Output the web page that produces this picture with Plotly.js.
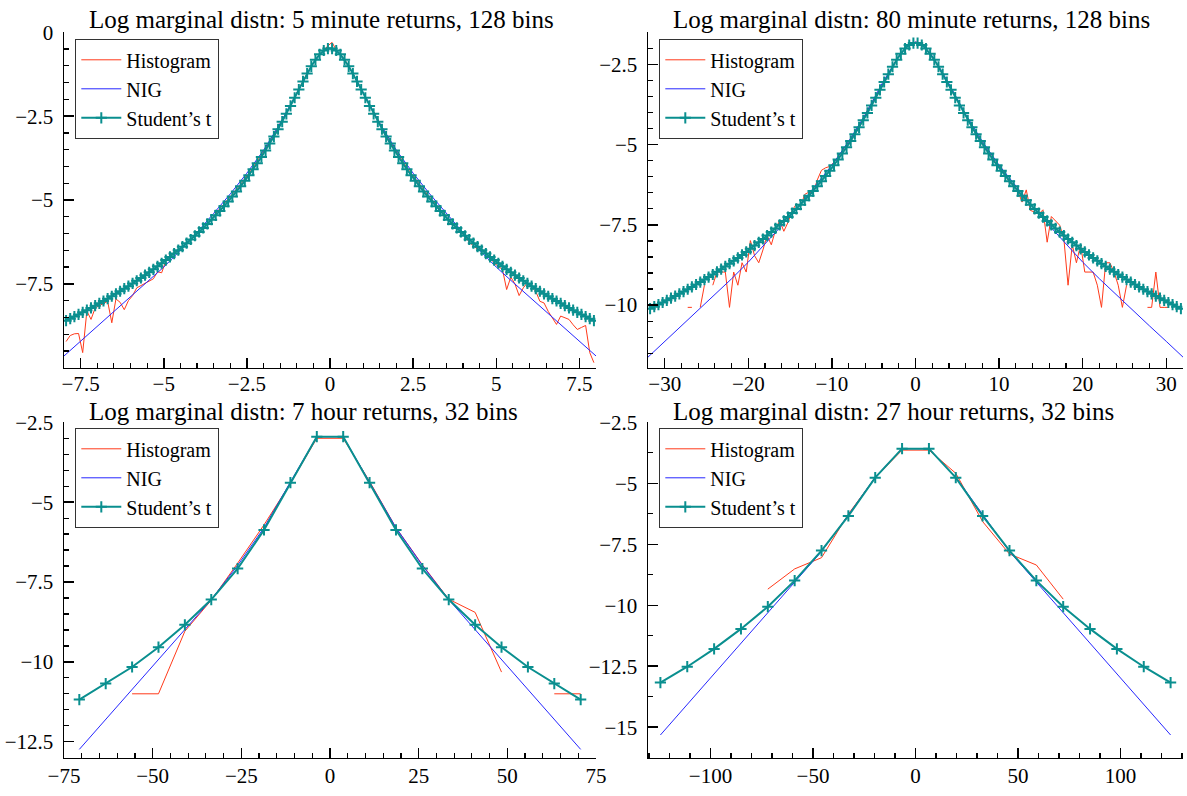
<!DOCTYPE html>
<html>
<head>
<meta charset="utf-8">
<script src="https://cdn.plot.ly/plotly-3.0.1.min.js"></script>
<style>html,body{margin:0;padding:0;background:#fff;}#chart{width:1187px;height:796px;}</style>
</head>
<body>
<div id="chart"></div>
<script>
// ---------- Panel titles ----------
const titles = [
  "Log marginal distn: 5 minute returns, 128 bins",
  "Log marginal distn: 80 minute returns, 128 bins",
  "Log marginal distn: 7 hour returns, 32 bins",
  "Log marginal distn: 27 hour returns, 32 bins"
];
const seriesNames = ["Histogram", "NIG", "Student\u2019s t"];

// ---------- Panel 1: 5 minute returns ----------
const p1_x = [-7.9375,-7.8125,-7.6875,-7.5625,-7.4375,-7.3125,-7.1875,-7.0625,-6.9375,-6.8125,-6.6875,-6.5625,-6.4375,-6.3125,-6.1875,-6.0625,
-5.9375,-5.8125,-5.6875,-5.5625,-5.4375,-5.3125,-5.1875,-5.0625,-4.9375,-4.8125,-4.6875,-4.5625,-4.4375,-4.3125,-4.1875,-4.0625,
-3.9375,-3.8125,-3.6875,-3.5625,-3.4375,-3.3125,-3.1875,-3.0625,-2.9375,-2.8125,-2.6875,-2.5625,-2.4375,-2.3125,-2.1875,-2.0625,
-1.9375,-1.8125,-1.6875,-1.5625,-1.4375,-1.3125,-1.1875,-1.0625,-0.9375,-0.8125,-0.6875,-0.5625,-0.4375,-0.3125,-0.1875,-0.0625,
0.0625,0.1875,0.3125,0.4375,0.5625,0.6875,0.8125,0.9375,1.0625,1.1875,1.3125,1.4375,1.5625,1.6875,1.8125,1.9375,
2.0625,2.1875,2.3125,2.4375,2.5625,2.6875,2.8125,2.9375,3.0625,3.1875,3.3125,3.4375,3.5625,3.6875,3.8125,3.9375,
4.0625,4.1875,4.3125,4.4375,4.5625,4.6875,4.8125,4.9375,5.0625,5.1875,5.3125,5.4375,5.5625,5.6875,5.8125,5.9375,
6.0625,6.1875,6.3125,6.4375,6.5625,6.6875,6.8125,6.9375,7.0625,7.1875,7.3125,7.4375,7.5625,7.6875,7.8125,7.9375];
const p1_hist = [-9.22,-9.04,-8.99,-8.98,-9.55,-8.31,-8.56,-8.22,-8.15,-8.09,-8.02,-8.66,-7.95,-8.05,-8.27,-8.00,
-7.85,-7.62,-7.55,-7.50,-7.42,-7.35,-7.14,-7.17,-6.82,-6.66,-6.57,-6.48,-6.41,-6.30,-6.19,-6.07,
-5.96,-5.84,-5.72,-5.59,-5.40,-5.26,-5.14,-4.98,-4.83,-4.68,-4.54,-4.36,-4.21,-4.02,-3.84,-3.66,
-3.46,-3.28,-3.05,-2.84,-2.63,-2.39,-2.17,-1.93,-1.69,-1.47,-1.22,-1.02,-0.83,-0.65,-0.55,-0.40,
-0.30,-0.53,-0.66,-0.81,-1.00,-1.23,-1.45,-1.70,-1.92,-2.16,-2.40,-2.62,-2.85,-3.07,-3.27,-3.47,
-3.66,-3.85,-4.03,-4.20,-4.37,-4.53,-4.69,-4.85,-4.99,-5.13,-5.27,-5.41,-5.62,-5.74,-5.86,-5.98,
-6.08,-6.26,-6.38,-6.47,-6.50,-6.56,-6.72,-6.88,-6.98,-7.07,-7.67,-7.30,-7.50,-7.85,-7.62,-7.47,
-7.60,-7.72,-8.02,-8.07,-8.32,-8.50,-8.71,-8.46,-8.52,-8.56,-8.72,-8.86,-8.80,-8.74,-9.55,-9.85];
const p1_t = [-8.598,-8.537,-8.475,-8.412,-8.349,-8.284,-8.217,-8.150,-8.082,-8.012,-7.942,-7.869,-7.796,-7.721,-7.645,-7.568,
-7.488,-7.408,-7.325,-7.241,-7.155,-7.067,-6.978,-6.886,-6.792,-6.696,-6.597,-6.496,-6.393,-6.287,-6.178,-6.066,
-5.951,-5.833,-5.712,-5.587,-5.458,-5.325,-5.187,-5.046,-4.899,-4.748,-4.591,-4.428,-4.260,-4.085,-3.904,-3.716,
-3.521,-3.318,-3.108,-2.890,-2.664,-2.432,-2.194,-1.952,-1.708,-1.466,-1.232,-1.013,-0.818,-0.658,-0.543,-0.484,
-0.484,-0.543,-0.658,-0.818,-1.013,-1.232,-1.466,-1.708,-1.952,-2.194,-2.432,-2.664,-2.890,-3.108,-3.318,-3.521,
-3.716,-3.904,-4.085,-4.260,-4.428,-4.591,-4.748,-4.899,-5.046,-5.187,-5.325,-5.458,-5.587,-5.712,-5.833,-5.951,
-6.066,-6.178,-6.287,-6.393,-6.496,-6.597,-6.696,-6.792,-6.886,-6.978,-7.067,-7.155,-7.241,-7.325,-7.408,-7.488,
-7.568,-7.645,-7.721,-7.796,-7.869,-7.942,-8.012,-8.082,-8.150,-8.217,-8.284,-8.349,-8.412,-8.475,-8.537,-8.598];
const p1_nig_x = [-8,-7.5,-7,-6.5,-6,-5.5,-5,-4.5,-4,-3.5,-3,-2.5,-2,-1.5,-1,-0.75,-0.5,-0.25,0,0.25,0.5,0.75,1,1.5,2,2.5,3,3.5,4,4.5,5,5.5,6,6.5,7,7.5,8];
const p1_nig = [-9.65,-9.21,-8.77,-8.33,-7.89,-7.45,-7.00,-6.50,-5.97,-5.40,-4.82,-4.20,-3.52,-2.72,-1.80,-1.34,-0.92,-0.60,-0.47,-0.60,-0.92,-1.34,-1.80,-2.72,-3.52,-4.20,-4.82,-5.40,-5.97,-6.50,-7.00,-7.45,-7.89,-8.33,-8.77,-9.21,-9.65];

// ---------- Panel 2: 80 minute returns ----------
const p2_x = [-31.75,-31.25,-30.75,-30.25,-29.75,-29.25,-28.75,-28.25,-27.75,-27.25,-26.75,-26.25,-25.75,-25.25,-24.75,-24.25,
-23.75,-23.25,-22.75,-22.25,-21.75,-21.25,-20.75,-20.25,-19.75,-19.25,-18.75,-18.25,-17.75,-17.25,-16.75,-16.25,
-15.75,-15.25,-14.75,-14.25,-13.75,-13.25,-12.75,-12.25,-11.75,-11.25,-10.75,-10.25,-9.75,-9.25,-8.75,-8.25,
-7.75,-7.25,-6.75,-6.25,-5.75,-5.25,-4.75,-4.25,-3.75,-3.25,-2.75,-2.25,-1.75,-1.25,-0.75,-0.25,
0.25,0.75,1.25,1.75,2.25,2.75,3.25,3.75,4.25,4.75,5.25,5.75,6.25,6.75,7.25,7.75,
8.25,8.75,9.25,9.75,10.25,10.75,11.25,11.75,12.25,12.75,13.25,13.75,14.25,14.75,15.25,15.75,
16.25,16.75,17.25,17.75,18.25,18.75,19.25,19.75,20.25,20.75,21.25,21.75,22.25,22.75,23.25,23.75,
24.25,24.75,25.25,25.75,26.25,26.75,27.25,27.75,28.25,28.75,29.25,29.75,30.25,30.75,31.25,31.75];
const p2_hist = [null,null,null,null,null,null,null,null,null,-10.07,-10.07,null,-10.07,-9.38,null,-9.38,
-8.97,-8.97,-8.97,-10.07,-8.97,-9.38,-8.68,-8.97,-7.99,-8.46,-8.68,-8.28,-7.83,-8.12,-7.67,-7.36,
-7.70,-7.42,-7.05,-6.85,-6.92,-6.55,-6.48,-6.52,-6.10,-5.80,-5.72,-5.68,-5.55,-5.38,-5.20,-5.02,
-4.82,-4.63,-4.40,-4.20,-3.93,-3.73,-3.50,-3.26,-3.02,-2.78,-2.55,-2.34,-2.15,-2.00,-1.88,-1.82,
-1.80,-1.89,-2.01,-2.16,-2.35,-2.56,-2.79,-3.03,-3.27,-3.51,-3.74,-3.98,-4.20,-4.43,-4.65,-4.85,
-5.06,-5.25,-5.44,-5.62,-5.72,-5.92,-6.20,-6.22,-6.45,-6.79,-6.41,-7.05,-7.10,-7.16,-7.03,-8.04,
-7.24,-7.37,-7.51,-7.94,-9.38,-8.12,-8.68,-8.12,-8.97,-8.97,-8.97,-9.38,-10.07,-8.68,-8.68,-8.97,
-9.38,-10.07,-9.38,null,null,null,null,-10.07,-10.07,-8.97,-10.07,-10.07,-10.07,null,null,null];
const p2_t = [-10.111,-10.048,-9.984,-9.918,-9.852,-9.785,-9.717,-9.648,-9.577,-9.505,-9.432,-9.358,-9.282,-9.205,-9.126,-9.046,
-8.964,-8.881,-8.796,-8.709,-8.620,-8.529,-8.437,-8.342,-8.245,-8.146,-8.044,-7.940,-7.834,-7.724,-7.612,-7.497,
-7.378,-7.257,-7.132,-7.003,-6.870,-6.733,-6.592,-6.446,-6.295,-6.140,-5.979,-5.812,-5.639,-5.460,-5.275,-5.083,
-4.883,-4.676,-4.462,-4.240,-4.012,-3.777,-3.536,-3.292,-3.048,-2.806,-2.573,-2.357,-2.165,-2.008,-1.896,-1.837,
-1.837,-1.896,-2.008,-2.165,-2.357,-2.573,-2.806,-3.048,-3.292,-3.536,-3.777,-4.012,-4.240,-4.462,-4.676,-4.883,
-5.083,-5.275,-5.460,-5.639,-5.812,-5.979,-6.140,-6.295,-6.446,-6.592,-6.733,-6.870,-7.003,-7.132,-7.257,-7.378,
-7.497,-7.612,-7.724,-7.834,-7.940,-8.044,-8.146,-8.245,-8.342,-8.437,-8.529,-8.620,-8.709,-8.796,-8.881,-8.964,
-9.046,-9.126,-9.205,-9.282,-9.358,-9.432,-9.505,-9.577,-9.648,-9.717,-9.785,-9.852,-9.918,-9.984,-10.048,-10.111];
const p2_nig_x = [-32,-30,-28,-26,-24,-22,-20,-18,-16,-14,-12,-10,-8,-6,-4,-3,-2,-1,0,1,2,3,4,6,8,10,12,14,16,18,20,22,24,26,28,30,32];
const p2_nig = [-11.62,-11.13,-10.65,-10.17,-9.68,-9.18,-8.66,-8.10,-7.52,-6.93,-6.30,-5.64,-4.90,-4.06,-3.10,-2.66,-2.24,-1.93,-1.80,-1.93,-2.24,-2.66,-3.10,-4.06,-4.90,-5.64,-6.30,-6.93,-7.52,-8.10,-8.66,-9.18,-9.68,-10.17,-10.65,-11.13,-11.62];

// ---------- Panel 3: 7 hour returns ----------
const p3_x = [-70.68,-63.24,-55.8,-48.36,-40.92,-33.48,-26.04,-18.6,-11.16,-3.72,3.72,11.16,18.6,26.04,33.48,40.92,48.36,55.8,63.24,70.68];
const p3_hist = [null,null,-11.0,-11.0,-9.04,-8.07,-6.91,-5.71,-4.41,-3.0,-3.0,-4.35,-5.8,-6.96,-8.04,-8.45,-10.32,null,-11.0,-11.0];
const p3_nig = [-12.74,-11.80,-10.87,-9.93,-8.99,-8.05,-6.98,-5.80,-4.37,-2.95,-2.95,-4.37,-5.80,-6.98,-8.05,-8.99,-9.93,-10.87,-11.80,-12.74];
const p3_t = [-11.18,-10.68,-10.16,-9.54,-8.84,-8.05,-7.08,-5.87,-4.39,-2.95,-2.95,-4.39,-5.87,-7.08,-8.05,-8.84,-9.54,-10.16,-10.68,-11.18];

// ---------- Panel 4: 27 hour returns ----------
const p4_x = [-124.45,-111.35,-98.25,-85.15,-72.05,-58.95,-45.85,-32.75,-19.65,-6.55,6.55,19.65,32.75,45.85,58.95,72.05,85.15,98.25,111.35,124.45];
const p4_hist = [null,null,null,null,-9.34,-8.51,-8.05,-6.26,-4.77,-3.64,-3.64,-4.59,-6.57,-7.90,-8.35,-9.75,null,null,null,null];
const p4_nig = [-15.32,-14.06,-12.80,-11.55,-10.30,-9.05,-7.80,-6.30,-4.75,-3.58,-3.58,-4.75,-6.30,-7.80,-9.05,-10.30,-11.55,-12.80,-14.06,-15.32];
const p4_t = [-13.17,-12.52,-11.79,-10.97,-10.06,-8.99,-7.76,-6.34,-4.77,-3.58,-3.58,-4.77,-6.34,-7.76,-8.99,-10.06,-10.97,-11.79,-12.52,-13.17];

// ---------- Tick labels ----------
const p1_xticks = [-7.5,-5,-2.5,0,2.5,5,7.5];
const p1_yticks = [0,-2.5,-5,-7.5];
const p2_xticks = [-30,-20,-10,0,10,20,30];
const p2_yticks = [-2.5,-5,-7.5,-10];
const p3_xticks = [-75,-50,-25,0,25,50,75];
const p3_yticks = [-2.5,-5,-7.5,-10,-12.5];
const p4_xticks = [-100,-50,0,50,100];
const p4_yticks = [-2.5,-5,-7.5,-10,-12.5,-15];

// ---------- Styling ----------
const RED = "#ff3a1a", BLUE = "#2626ff", TEAL = "#0a8f8f";
const FONT = "Liberation Serif";
const W = 1187, H = 796;

function lbl(v){ return v < 0 ? "\u2212" + String(-v) : String(v); }

function traces(xa, ya, lg, x, hist, nx, nig, t, msize){
  return [
    {x:x, y:hist, type:"scatter", mode:"lines", name:seriesNames[0], xaxis:xa, yaxis:ya, legend:lg,
     line:{color:RED, width:1}, connectgaps:false},
    {x:nx, y:nig, type:"scatter", mode:"lines", name:seriesNames[1], xaxis:xa, yaxis:ya, legend:lg,
     line:{color:BLUE, width:1}},
    {x:x, y:t, type:"scatter", mode:"lines+markers", name:seriesNames[2], xaxis:xa, yaxis:ya, legend:lg,
     line:{color:TEAL, width:2},
     marker:{symbol:"cross-thin", size:msize, color:TEAL, line:{color:TEAL, width:2}}}
  ];
}

const data = [].concat(
  traces("x","y","legend", p1_x, p1_hist, p1_nig_x, p1_nig, p1_t, 8),
  traces("x2","y2","legend2", p2_x, p2_hist, p2_nig_x, p2_nig, p2_t, 8),
  traces("x3","y3","legend3", p3_x, p3_hist, p3_x, p3_nig, p3_t, 8),
  traces("x4","y4","legend4", p4_x, p4_hist, p4_x, p4_nig, p4_t, 8)
);

function xax(dom, anchor, range, ticks, minor, standoff){
  return {domain:dom, anchor:anchor, range:range, tickmode:"array", tickvals:ticks, ticktext:ticks.map(lbl),
    showline:true, linecolor:"black", linewidth:1.5, ticks:"inside", ticklen:10, tickwidth:1.5, tickcolor:"black",
    showgrid:false, zeroline:false, mirror:false, tickfont:{family:FONT, size:21, color:"black"},
    ticklabelstandoff:standoff,
    minor:{tickmode:"linear", tick0:0, dtick:minor, ticks:"inside", ticklen:5, tickwidth:1.2, tickcolor:"black", showgrid:false}};
}
function yax(dom, anchor, range, ticks, minor){
  return xax(dom, anchor, range, ticks, minor, 5);
}

const topDom = [1-367.7/H, 1-32.3/H];
const botDom = [1-757.7/H, 1-422.3/H];
const leftDom = [64/W, 596/W];
const rightDom = [648/W, 1183/W];

function legendAt(x, y){
  return {x:x/W, y:1-y/H, xanchor:"left", yanchor:"top", bgcolor:"white", bordercolor:"#333", borderwidth:1.3,
    font:{family:FONT, size:20, color:"black"}, tracegroupgap:0, itemwidth:40};
}

const layout = {
  width:W, height:H, margin:{l:0,r:0,t:0,b:0}, paper_bgcolor:"white", plot_bgcolor:"white",
  font:{family:FONT, color:"black"}, showlegend:true,
  xaxis:xax(leftDom,"y",[-8,8],p1_xticks,0.5,-3),
  yaxis:yax(topDom,"x",[-10,0],p1_yticks,0.5),
  xaxis2:xax(rightDom,"y2",[-32,32],p2_xticks,2,-3),
  yaxis2:yax(topDom,"x2",[-11.95,-1.5],p2_yticks,0.5),
  xaxis3:xax(leftDom,"y3",[-75,75],p3_xticks,5,-1),
  yaxis3:yax(botDom,"x3",[-13,-2.5],p3_yticks,0.5),
  xaxis4:xax(rightDom,"y4",[-130.5,130.5],p4_xticks,10,-1),
  yaxis4:yax(botDom,"x4",[-16.25,-2.5],p4_yticks,1.25),
  legend:legendAt(75,39),
  legend2:legendAt(659,39),
  legend3:legendAt(75,428),
  legend4:legendAt(659,428),
  annotations:[
    {text:titles[0], xref:"paper", yref:"paper", x:87/W, y:1-19/H, xanchor:"left", yanchor:"middle", showarrow:false, font:{family:FONT,size:25,color:"black"}},
    {text:titles[1], xref:"paper", yref:"paper", x:671/W, y:1-19/H, xanchor:"left", yanchor:"middle", showarrow:false, font:{family:FONT,size:25,color:"black"}},
    {text:titles[2], xref:"paper", yref:"paper", x:87/W, y:1-411/H, xanchor:"left", yanchor:"middle", showarrow:false, font:{family:FONT,size:25,color:"black"}},
    {text:titles[3], xref:"paper", yref:"paper", x:671/W, y:1-411/H, xanchor:"left", yanchor:"middle", showarrow:false, font:{family:FONT,size:25,color:"black"}}
  ]
};

Plotly.newPlot("chart", data, layout, {staticPlot:true, displayModeBar:false});
</script>
</body>
</html>
